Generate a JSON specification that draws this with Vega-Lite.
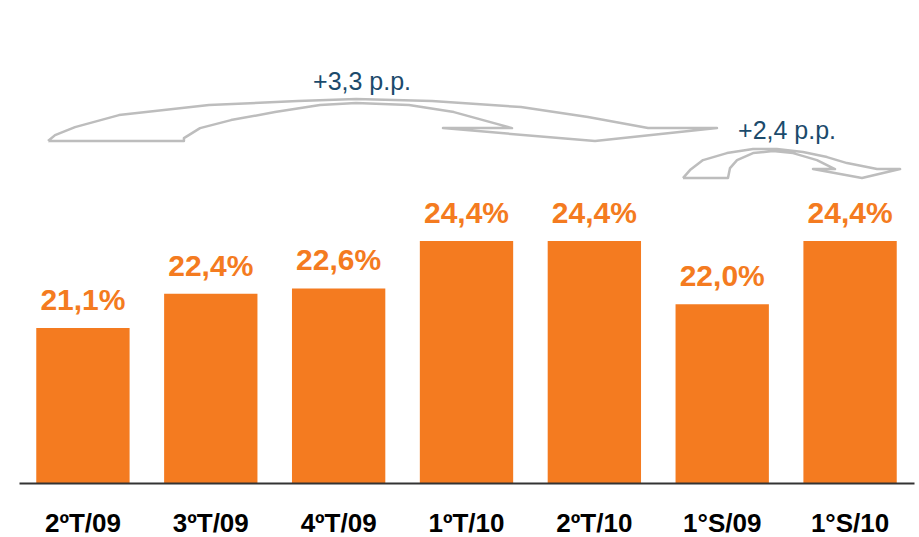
{
  "$schema": "https://vega.github.io/schema/vega-lite/v6.json",
  "width": 895,
  "height": 483,
  "autosize": {"type": "none"},
  "padding": {"left": 19, "top": 0, "right": 5, "bottom": 54},
  "background": "white",
  "config": {"view": {"stroke": null}, "font": "Liberation Sans"},
  "datasets": {
    "bars": [
      {"periodo": "2ºT/09", "valor": 21.1, "base": 15.23, "rotulo": "21,1%"},
      {"periodo": "3ºT/09", "valor": 22.4, "base": 15.23, "rotulo": "22,4%"},
      {"periodo": "4ºT/09", "valor": 22.6, "base": 15.23, "rotulo": "22,6%"},
      {"periodo": "1ºT/10", "valor": 24.4, "base": 15.23, "rotulo": "24,4%"},
      {"periodo": "2ºT/10", "valor": 24.4, "base": 15.23, "rotulo": "24,4%"},
      {"periodo": "1°S/09", "valor": 22.0, "base": 15.23, "rotulo": "22,0%"},
      {"periodo": "1°S/10", "valor": 24.4, "base": 15.23, "rotulo": "24,4%"}
    ],
    "arrows": [
      {"seta": "a", "k": 1, "u": -0.273, "v": 28.185},
      {"seta": "a", "k": 2, "u": 0.79, "v": 28.185},
      {"seta": "a", "k": 3, "u": 0.79, "v": 28.298},
      {"seta": "a", "k": 4, "u": 0.916, "v": 28.677},
      {"seta": "a", "k": 5, "u": 1.158, "v": 28.98},
      {"seta": "a", "k": 6, "u": 1.502, "v": 29.283},
      {"seta": "a", "k": 7, "u": 1.854, "v": 29.548},
      {"seta": "a", "k": 8, "u": 2.136, "v": 29.624},
      {"seta": "a", "k": 9, "u": 2.55, "v": 29.548},
      {"seta": "a", "k": 10, "u": 2.902, "v": 29.283},
      {"seta": "a", "k": 11, "u": 3.356, "v": 28.677},
      {"seta": "a", "k": 12, "u": 2.816, "v": 28.677},
      {"seta": "a", "k": 13, "u": 4.005, "v": 28.185},
      {"seta": "a", "k": 14, "u": 4.959, "v": 28.677},
      {"seta": "a", "k": 15, "u": 4.42, "v": 28.677},
      {"seta": "a", "k": 16, "u": 3.95, "v": 29.094},
      {"seta": "a", "k": 17, "u": 3.426, "v": 29.472},
      {"seta": "a", "k": 18, "u": 2.73, "v": 29.7},
      {"seta": "a", "k": 19, "u": 2.136, "v": 29.775},
      {"seta": "a", "k": 20, "u": 1.682, "v": 29.7},
      {"seta": "a", "k": 21, "u": 0.986, "v": 29.548},
      {"seta": "a", "k": 22, "u": 0.282, "v": 29.169},
      {"seta": "a", "k": 23, "u": -0.062, "v": 28.715},
      {"seta": "a", "k": 24, "u": -0.218, "v": 28.41},
      {"seta": "a", "k": 25, "u": -0.273, "v": 28.185},
      {"seta": "b", "k": 1, "u": 4.693, "v": 26.783},
      {"seta": "b", "k": 2, "u": 5.045, "v": 26.783},
      {"seta": "b", "k": 3, "u": 5.061, "v": 27.162},
      {"seta": "b", "k": 4, "u": 5.116, "v": 27.465},
      {"seta": "b", "k": 5, "u": 5.241, "v": 27.73},
      {"seta": "b", "k": 6, "u": 5.397, "v": 27.806},
      {"seta": "b", "k": 7, "u": 5.554, "v": 27.73},
      {"seta": "b", "k": 8, "u": 5.741, "v": 27.465},
      {"seta": "b", "k": 9, "u": 5.882, "v": 27.124},
      {"seta": "b", "k": 10, "u": 5.71, "v": 27.124},
      {"seta": "b", "k": 11, "u": 6.093, "v": 26.783},
      {"seta": "b", "k": 12, "u": 6.391, "v": 27.124},
      {"seta": "b", "k": 13, "u": 6.211, "v": 27.124},
      {"seta": "b", "k": 14, "u": 5.976, "v": 27.351},
      {"seta": "b", "k": 15, "u": 5.82, "v": 27.578},
      {"seta": "b", "k": 16, "u": 5.632, "v": 27.768},
      {"seta": "b", "k": 17, "u": 5.428, "v": 27.882},
      {"seta": "b", "k": 18, "u": 5.241, "v": 27.882},
      {"seta": "b", "k": 19, "u": 5.037, "v": 27.73},
      {"seta": "b", "k": 20, "u": 4.85, "v": 27.465},
      {"seta": "b", "k": 21, "u": 4.748, "v": 27.086},
      {"seta": "b", "k": 22, "u": 4.693, "v": 26.783}
    ],
    "notes": [
      {"u": 2.183, "v": 30.42, "texto": "+3,3 p.p."},
      {"u": 5.507, "v": 28.563, "texto": "+2,4 p.p."}
    ]
  },
  "layer": [
    {
      "data": {"name": "bars"},
      "encoding": {
        "x": {
          "field": "periodo",
          "type": "nominal",
          "sort": null,
          "scale": {"paddingInner": 0.27, "paddingOuter": 0.135},
          "axis": {
            "title": null,
            "ticks": false,
            "domainColor": "#333333",
            "domainWidth": 2,
            "labelAngle": 0,
            "labelFont": "Liberation Sans",
            "labelFontWeight": "bold",
            "labelFontSize": 26,
            "labelColor": "#000000",
            "labelPadding": 27,
            "labelBaseline": "top",
            "zindex": 1
          }
        },
        "y": {
          "field": "valor",
          "type": "quantitative",
          "scale": {"domain": [15.23, 33.53], "zero": false, "nice": false},
          "axis": null
        }
      },
      "layer": [
        {"mark": {"type": "bar", "color": "#F47B20"}, "encoding": {"y2": {"field": "base"}}},
        {
          "mark": {
            "type": "text",
            "color": "#F47B20",
            "font": "Liberation Sans",
            "fontWeight": "bold",
            "fontSize": 30,
            "baseline": "alphabetic",
            "dy": -18
          },
          "encoding": {"text": {"field": "rotulo"}}
        }
      ]
    },
    {
      "layer": [
        {
          "data": {"name": "arrows"},
          "mark": {"type": "line", "color": "#BDBDBD", "strokeWidth": 2.5, "strokeJoin": "round"},
          "encoding": {
            "x": {"field": "u", "type": "quantitative", "scale": {"domain": [-0.5, 6.5], "nice": false, "zero": false}, "axis": null},
            "y": {"field": "v", "type": "quantitative"},
            "detail": {"field": "seta"},
            "order": {"field": "k", "type": "quantitative"}
          }
        },
        {
          "data": {"name": "notes"},
          "mark": {"type": "text", "color": "#1B4A6B", "font": "Liberation Sans", "fontSize": 25, "baseline": "middle", "align": "center"},
          "encoding": {
            "x": {"field": "u", "type": "quantitative", "scale": {"domain": [-0.5, 6.5], "nice": false, "zero": false}, "axis": null},
            "y": {"field": "v", "type": "quantitative"},
            "text": {"field": "texto"}
          }
        }
      ]
    }
  ],
  "resolve": {"scale": {"x": "independent"}, "axis": {"x": "independent"}}
}
